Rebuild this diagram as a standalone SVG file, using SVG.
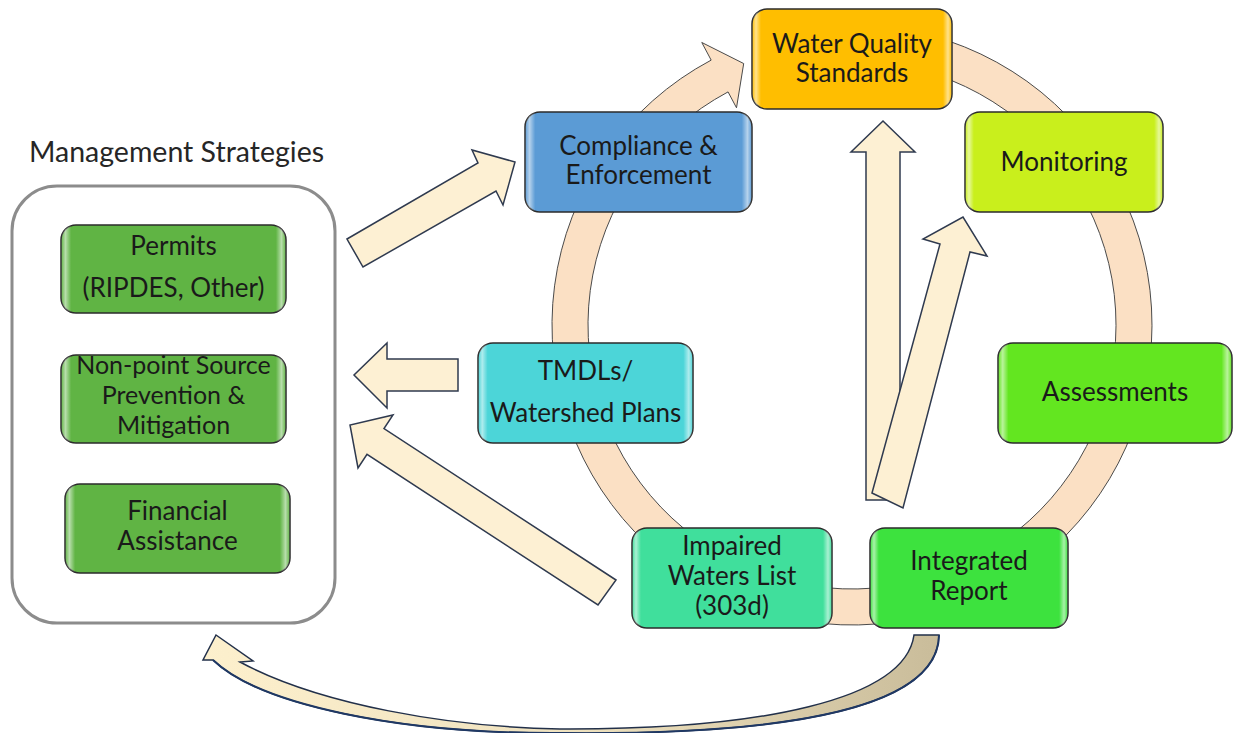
<svg xmlns="http://www.w3.org/2000/svg" width="1233" height="733" viewBox="0 0 1233 733">
<defs>
<style>
.node{stroke:#2b2b2b;stroke-width:1.5}
.hl{fill:url(#hl);stroke:none}
.t{font-family:Lato,"Liberation Sans",sans-serif;font-size:26px;fill:#1a1a1a;text-anchor:middle}
.ts{font-size:25px}
.title{font-family:Lato,"Liberation Sans",sans-serif;font-size:28.5px;fill:#262626}
.blk{fill:#fdf0d3;stroke:#2f3a4f;stroke-width:1.5;stroke-linejoin:miter}
.ring{fill:#fbe0c4;stroke:#4a4a4a;stroke-width:1}
</style>
<linearGradient id="hl" x1="0" y1="0" x2="1" y2="0">
<stop offset="0" stop-color="#fff" stop-opacity="0"/>
<stop offset="0.02" stop-color="#fff" stop-opacity="0.55"/>
<stop offset="0.045" stop-color="#fff" stop-opacity="0"/>
<stop offset="0.955" stop-color="#fff" stop-opacity="0"/>
<stop offset="0.98" stop-color="#fff" stop-opacity="0.55"/>
<stop offset="1" stop-color="#fff" stop-opacity="0"/>
</linearGradient>
<linearGradient id="curveFill" gradientUnits="userSpaceOnUse" x1="200" y1="0" x2="940" y2="0">
<stop offset="0" stop-color="#fdf0cd"/>
<stop offset="0.5" stop-color="#efe2bf"/>
<stop offset="1" stop-color="#c9bc9a"/>
</linearGradient>
</defs>
<rect width="1233" height="733" fill="#fff"/>

<g id="cycle-ring">
<path class="ring" d="M 878.15 26.14 A 300 300 0 1 1 711.16 60.11 L 701.77 42.46 L 743.70 63.54 L 736.51 107.79 L 728.06 91.90 A 264 264 0 1 0 875.01 62.0 Z"/>
</g>

<g id="connectors">
<polygon class="blk" points="347,239 478,163 472,150 515,162 503,205 496,191 363,267"/>
<polygon class="blk" points="458,359 387,359 387,343 354,375 387,408 387,391 458,391"/>
<polygon class="blk" points="616,580 384,428.6 393,415 350,425 358,468 367,454.4 598,605"/>
<polygon class="blk" points="866,500 866,152 851,152 883,121 915,152 900,152 900,500"/>
<polygon class="blk" points="872,493 940,244 923,239 963,217 987,256 970,252 903,508"/>
<path d="M 216 635 L 253 661 L 240 662 C 320 705 450 727 560 729 C 760 730 905 700 914 635 L 939 635 C 938 715 760 735 560 733 C 400 734 260 705 213 660 L 203 660 Z" fill="url(#curveFill)" stroke="#22304a" stroke-width="1.5" stroke-linejoin="miter"/>
<path d="M 939 635 C 938 715 760 735 560 733 C 400 734 260 705 213 660" fill="none" stroke="#1f3864" stroke-width="2"/>
</g>

<g id="management-strategies">
<text class="title" x="29" y="162">Management Strategies</text>
<rect x="12" y="186" width="323" height="437" rx="45" fill="#fff" stroke="#8c8c8c" stroke-width="3"/>
</g>

<g id="permits">
<rect class="node" x="61" y="225" width="225" height="88" rx="15" fill="#60b444"/>
<rect class="hl" x="61" y="225" width="225" height="88" rx="15"/>
<text class="t" x="173.5" y="255">Permits</text>
<text class="t" x="173.5" y="297">(RIPDES, Other)</text>
</g>
<g id="nonpoint">
<rect class="node" x="61" y="355" width="225" height="88" rx="15" fill="#60b444"/>
<rect class="hl" x="61" y="355" width="225" height="88" rx="15"/>
<text class="t ts" x="173.5" y="374">Non-point Source</text>
<text class="t ts" x="173.5" y="404">Prevention &amp;</text>
<text class="t ts" x="173.5" y="434">Mitigation</text>
</g>
<g id="financial">
<rect class="node" x="65" y="484" width="225" height="89" rx="15" fill="#60b444"/>
<rect class="hl" x="65" y="484" width="225" height="89" rx="15"/>
<text class="t" x="177.5" y="520">Financial</text>
<text class="t" x="177.5" y="550">Assistance</text>
</g>

<g id="wqs">
<rect class="node" x="752" y="9" width="200" height="100" rx="15" fill="#ffbe00"/>
<rect class="hl" x="752" y="9" width="200" height="100" rx="15"/>
<text class="t" x="852" y="53">Water Quality</text>
<text class="t" x="852" y="82">Standards</text>
</g>
<g id="compliance">
<rect class="node" x="525" y="112" width="227" height="100" rx="15" fill="#5b9bd5"/>
<rect class="hl" x="525" y="112" width="227" height="100" rx="15"/>
<text class="t" x="638.5" y="155">Compliance &amp;</text>
<text class="t" x="638.5" y="184">Enforcement</text>
</g>
<g id="monitoring">
<rect class="node" x="965" y="112" width="198" height="100" rx="15" fill="#c9ef1c"/>
<rect class="hl" x="965" y="112" width="198" height="100" rx="15"/>
<text class="t" x="1064" y="171">Monitoring</text>
</g>
<g id="assessments">
<rect class="node" x="998" y="343" width="234" height="100" rx="15" fill="#63e620"/>
<rect class="hl" x="998" y="343" width="234" height="100" rx="15"/>
<text class="t" x="1115" y="401">Assessments</text>
</g>
<g id="tmdls">
<rect class="node" x="478" y="343" width="215" height="100" rx="15" fill="#4cd5d8"/>
<rect class="hl" x="478" y="343" width="215" height="100" rx="15"/>
<text class="t" x="585.5" y="380">TMDLs/</text>
<text class="t" x="585.5" y="422">Watershed Plans</text>
</g>
<g id="impaired">
<rect class="node" x="632" y="528" width="200" height="100" rx="15" fill="#40df9c"/>
<rect class="hl" x="632" y="528" width="200" height="100" rx="15"/>
<text class="t" x="732" y="555">Impaired</text>
<text class="t" x="732" y="585">Waters List</text>
<text class="t" x="732" y="615">(303d)</text>
</g>
<g id="integrated">
<rect class="node" x="870" y="528" width="198" height="100" rx="15" fill="#3de23e"/>
<rect class="hl" x="870" y="528" width="198" height="100" rx="15"/>
<text class="t" x="969" y="570">Integrated</text>
<text class="t" x="969" y="600">Report</text>
</g>
</svg>
